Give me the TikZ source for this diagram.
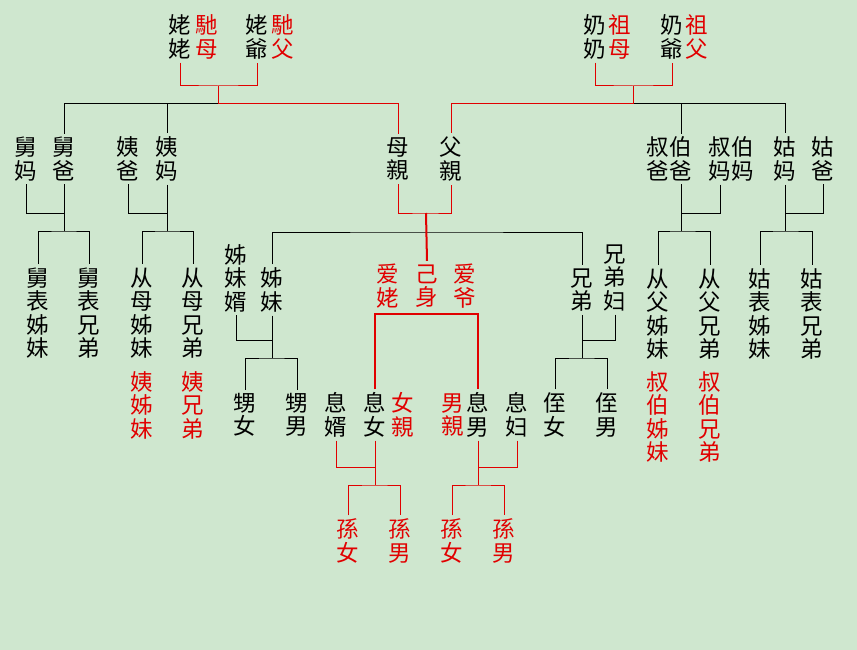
\documentclass[tikz,border=0pt]{standalone}
\usepackage{fontspec}
\newfontfamily\cjk{Noto Sans CJK SC}
\definecolor{bg}{RGB}{207,231,207}
\definecolor{kin}{RGB}{225,0,0}

\begin{document}
\begin{tikzpicture}[x=1pt,y=-1pt,line width=1pt,
    term/.style={inner sep=0pt,outer sep=3.5pt,align=center,
        font=\cjk\fontsize{22.5}{23.5}\selectfont},
    own/.style={term,text=kin}]
    \fill[bg] (0,0) rectangle (857,650);

    % grandparents
    \node[term] (lgm)  at (180,37) {姥\\姥};
    \node[own]  (lgmt) at (207,37) {馳\\母};
    \node[term] (lgf)  at (257,37) {姥\\爺};
    \node[own]  (lgft) at (283,37) {馳\\父};
    \node[term] (pgm)  at (595,37) {奶\\奶};
    \node[own]  (pgmt) at (620,37) {祖\\母};
    \node[term] (pgf)  at (672,37) {奶\\爺};
    \node[own]  (pgft) at (697,37) {祖\\父};

    % parents and their siblings
    \node[term] (jiuma)  at (26,159)  {舅\\妈};
    \node[term] (jiuba)  at (64,159)  {舅\\爸};
    \node[term] (yiba)   at (128,159) {姨\\爸};
    \node[term] (yima)   at (167,159) {姨\\妈};
    \node[term] (mother) at (398,159) {母\\親};
    \node[term] (father) at (451,159) {父\\親};
    \node[term] (shuba)  at (658,159) {叔\\爸};
    \node[term] (boba)   at (681,159) {伯\\爸};
    \node[term] (shuma)  at (720,159) {叔\\妈};
    \node[term] (boma)   at (743,159) {伯\\妈};
    \node[term] (guma)   at (785,159) {姑\\妈};
    \node[term] (guba)   at (823,159) {姑\\爸};

    % own generation
    \node[term] (jbjm) at (38,313)  {舅\\表\\姊\\妹};
    \node[term] (jbxd) at (89,313)  {舅\\表\\兄\\弟};
    \node[term] (cmjm) at (142,313) {从\\母\\姊\\妹};
    \node[term] (cmxd) at (193,313) {从\\母\\兄\\弟};
    \node[own]  (yjm)  at (142,405) {姨\\姊\\妹};
    \node[own]  (yxd)  at (193,405) {姨\\兄\\弟};
    \node[term] (zmx)  at (236,278) {姊\\妹\\婿};
    \node[term] (zm)   at (272,290) {姊\\妹};
    \node[own]  (aila) at (388,286) {爱\\姥};
    \node[own]  (self) at (427,286) {己\\身};
    \node[own]  (aiye) at (465,286) {爱\\爷};
    \node[term] (xd)   at (582,290) {兄\\弟};
    \node[term] (xdf)  at (615,278) {兄\\弟\\妇};
    \node[term] (cfjm) at (658,314) {从\\父\\姊\\妹};
    \node[term] (cfxd) at (710,314) {从\\父\\兄\\弟};
    \node[own]  (sbjm) at (658,417) {叔\\伯\\姊\\妹};
    \node[own]  (sbxd) at (710,417) {叔\\伯\\兄\\弟};
    \node[term] (gbjm) at (760,314) {姑\\表\\姊\\妹};
    \node[term] (gbxd) at (812,314) {姑\\表\\兄\\弟};

    % children
    \node[term] (sn)   at (245,415) {甥\\女};
    \node[term] (sm)   at (297,415) {甥\\男};
    \node[term] (xx)   at (336,415) {息\\婿};
    \node[term] (xn)   at (375,415) {息\\女};
    \node[own]  (nq)   at (403,415) {女\\親};
    \node[own]  (nanq) at (453,415) {男\\親};
    \node[term] (xs)   at (478,415) {息\\男};
    \node[term] (xf)   at (517,415) {息\\妇};
    \node[term] (zn)   at (555,415) {侄\\女};
    \node[term] (zs)   at (607,415) {侄\\男};

    % grandchildren
    \node[own] (gd1) at (348,541) {孫\\女};
    \node[own] (gs1) at (400,541) {孫\\男};
    \node[own] (gd2) at (452,541) {孫\\女};
    \node[own] (gs2) at (504,541) {孫\\男};

    % junctions
    \coordinate (mgj) at (218,86);  \coordinate (mgb) at (218,104);
    \coordinate (pgj) at (633,86);  \coordinate (pgb) at (633,104);
    \coordinate (jiuj) at (64,213); \coordinate (jiub) at (64,231);
    \coordinate (yij) at (167,213); \coordinate (yib) at (167,231);
    \coordinate (parj) at (426,213); \coordinate (sibb) at (426,232);
    \coordinate (shuj) at (681,213); \coordinate (shub) at (681,231);
    \coordinate (guj) at (785,213); \coordinate (gub) at (785,231);
    \coordinate (zmj) at (272,340); \coordinate (zmb) at (272,358);
    \coordinate (xdj) at (582,340); \coordinate (xdb) at (582,358);
    \coordinate (selfb) at (426,314);
    \coordinate (xnj) at (375,467); \coordinate (xnb) at (375,485);
    \coordinate (xsj) at (478,467); \coordinate (xsb) at (478,485);

    % black lines
    \draw (mgb) -| (jiuba.north);
    \draw (mgb) -| (yima.north);
    \draw (pgb) -| (boba.north);
    \draw (pgb) -| (guma.north);
    \draw (jiuma.south) |- (jiuj);
    \draw (jiuba.south) -- (jiub);
    \draw (jbjm.north) |- (jiub) -| (jbxd.north);
    \draw (yiba.south) |- (yij);
    \draw (yima.south) -- (yib);
    \draw (cmjm.north) |- (yib) -| (cmxd.north);
    \draw (shuma.south) |- (shuj);
    \draw (boba.south) -- (shub);
    \draw (cfjm.north) |- (shub) -| (cfxd.north);
    \draw (guba.south) |- (guj);
    \draw (guma.south) -- (gub);
    \draw (gbjm.north) |- (gub) -| (gbxd.north);
    \draw (zm.north) |- (sibb) -| (xd.north);
    \draw (zmx.south) |- (zmj);
    \draw (zm.south) -- (zmb);
    \draw (sn.north) |- (zmb) -| (sm.north);
    \draw (xdf.south) |- (xdj);
    \draw (xd.south) -- (xdb);
    \draw (zn.north) |- (xdb) -| (zs.north);

    % direct line in red
    \draw[kin] (lgm.south) |- (mgj) -| (lgf.south);
    \draw[kin] (mgj) -- (mgb) -| (mother.north);
    \draw[kin] (pgm.south) |- (pgj) -| (pgf.south);
    \draw[kin] (pgj) -- (pgb) -| (father.north);
    \draw[kin] (mother.south) |- (parj) -| (father.south);
    \draw[kin,line width=2pt] (parj) -- (self.north);
    \draw[kin,line width=1.5pt] (xn.north) |- (selfb) -| (xs.north);
    \draw[kin] (xx.south) |- (xnj);
    \draw[kin] (xn.south) -- (xnb);
    \draw[kin] (gd1.north) |- (xnb) -| (gs1.north);
    \draw[kin] (xf.south) |- (xsj);
    \draw[kin] (xs.south) -- (xsb);
    \draw[kin] (gd2.north) |- (xsb) -| (gs2.north);
\end{tikzpicture}
\end{document}
